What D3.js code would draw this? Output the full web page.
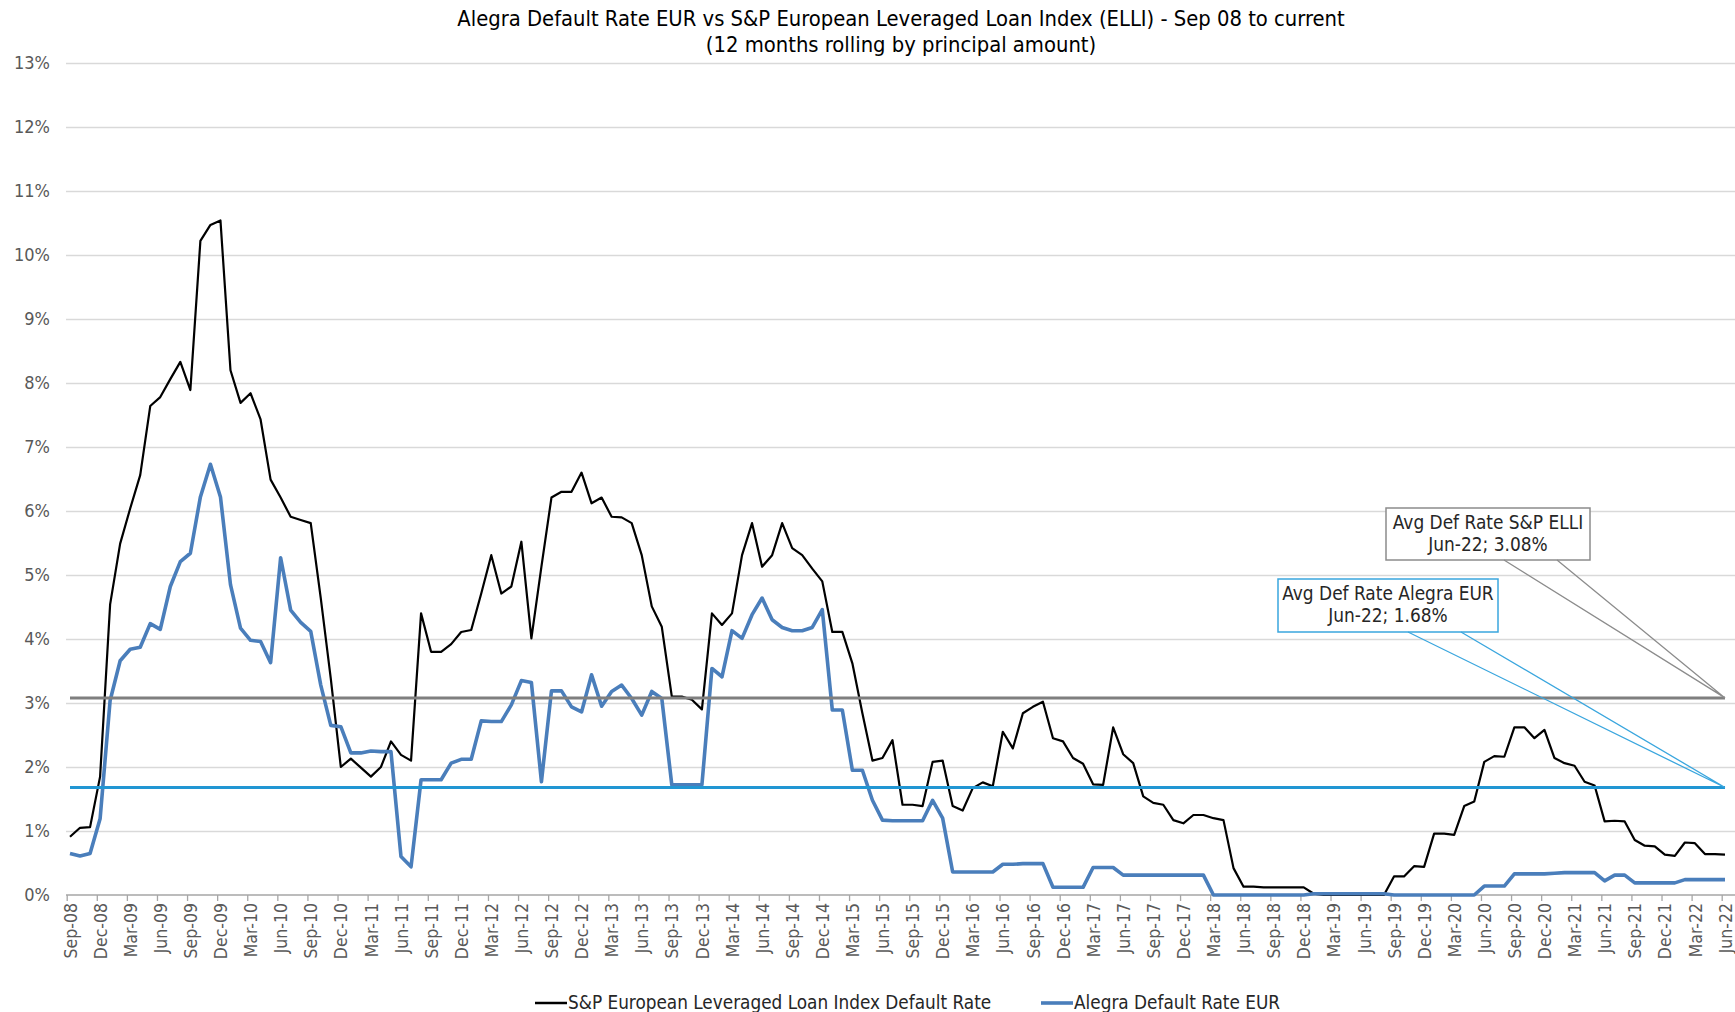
<!DOCTYPE html>
<html>
<head>
<meta charset="utf-8">
<script src="https://cdn.jsdelivr.net/npm/d3@7"></script>
<style>
  body { margin: 0; background: #fff; }
  svg { display: block; }
  text { font-family: 'DejaVu Sans Condensed', 'Liberation Sans', sans-serif; }
</style>
</head>
<body>
<svg></svg>
<script>
// categories: monthly, Sep-08 .. Jun-22
const months = d3.utcMonth
  .range(new Date(Date.UTC(2008, 8, 1)), new Date(Date.UTC(2022, 6, 1)))
  .map(d3.utcFormat('%b-%y'));

// S&P ELLI 12m rolling default rate (%)
const spElli = [
  0.91, 1.05, 1.06, 1.85, 4.54, 5.49, 6.04, 6.56, 7.64, 7.78, 8.06, 8.33,
  7.89, 10.22, 10.47, 10.54, 8.20, 7.69, 7.84, 7.43, 6.49, 6.21, 5.91, 5.86,
  5.81, 4.64, 3.38, 2.00, 2.13, 1.99, 1.85, 2.00, 2.40, 2.19, 2.10, 4.40,
  3.80, 3.80, 3.92, 4.11, 4.14, 4.71, 5.31, 4.71, 4.82, 5.52, 4.01, 5.13,
  6.21, 6.30, 6.30, 6.60, 6.12, 6.21, 5.91, 5.90, 5.81, 5.31, 4.51, 4.19,
  3.10, 3.10, 3.05, 2.90, 4.40, 4.22, 4.40, 5.31, 5.81, 5.13, 5.31, 5.81,
  5.42, 5.31, 5.10, 4.90, 4.11, 4.11, 3.62, 2.84, 2.10, 2.14, 2.42, 1.41,
  1.41, 1.39, 2.08, 2.10, 1.39, 1.32, 1.67, 1.76, 1.70, 2.55, 2.29, 2.84,
  2.94, 3.02, 2.45, 2.40, 2.14, 2.05, 1.73, 1.72, 2.62, 2.20, 2.06, 1.54,
  1.44, 1.41, 1.17, 1.12, 1.25, 1.25, 1.20, 1.17, 0.42, 0.13, 0.13, 0.12,
  0.12, 0.12, 0.12, 0.12, 0.02, 0.00, 0.00, 0.00, 0.00, 0.00, 0.00, 0.00,
  0.29, 0.29, 0.45, 0.44, 0.96, 0.96, 0.94, 1.39, 1.46, 2.08, 2.17, 2.16,
  2.62, 2.62, 2.45, 2.58, 2.14, 2.06, 2.02, 1.77, 1.71, 1.15, 1.16, 1.15,
  0.86, 0.77, 0.76, 0.63, 0.61, 0.82, 0.81, 0.64, 0.64, 0.63
];

// Alegra EUR 12m rolling default rate (%)
const alegraEur = [
  0.65, 0.61, 0.65, 1.19, 3.04, 3.66, 3.84, 3.87, 4.24, 4.15, 4.82, 5.21,
  5.34, 6.22, 6.73, 6.22, 4.85, 4.17, 3.98, 3.96, 3.63, 5.27, 4.45, 4.26,
  4.12, 3.28, 2.65, 2.63, 2.22, 2.22, 2.25, 2.24, 2.24, 0.60, 0.44, 1.80,
  1.80, 1.80, 2.06, 2.12, 2.12, 2.72, 2.71, 2.71, 2.97, 3.35, 3.32, 1.77,
  3.19, 3.19, 2.94, 2.86, 3.44, 2.95, 3.18, 3.28, 3.07, 2.81, 3.18, 3.07,
  1.72, 1.72, 1.72, 1.72, 3.54, 3.41, 4.13, 4.01, 4.38, 4.64, 4.30, 4.18,
  4.13, 4.13, 4.18, 4.46, 2.89, 2.89, 1.95, 1.95, 1.48, 1.17, 1.16, 1.16,
  1.16, 1.16, 1.48, 1.20, 0.36, 0.36, 0.36, 0.36, 0.36, 0.48, 0.48, 0.49,
  0.49, 0.49, 0.12, 0.12, 0.12, 0.12, 0.43, 0.43, 0.43, 0.31, 0.31, 0.31,
  0.31, 0.31, 0.31, 0.31, 0.31, 0.31, 0.00, 0.00, 0.00, 0.00, 0.00, 0.00,
  0.00, 0.00, 0.00, 0.00, 0.02, 0.02, 0.02, 0.02, 0.02, 0.02, 0.02, 0.02,
  0.00, 0.00, 0.00, 0.00, 0.00, 0.00, 0.00, 0.00, 0.00, 0.14, 0.14, 0.14,
  0.33, 0.33, 0.33, 0.33, 0.34, 0.35, 0.35, 0.35, 0.35, 0.22, 0.31, 0.31,
  0.19, 0.19, 0.19, 0.19, 0.19, 0.24, 0.24, 0.24, 0.24, 0.24
];

const avgSpElli = 3.08;
const avgAlegra = 1.68;

const yTickValues = d3.range(0, 14);
const xTickLabels = months.filter((m, i) => i % 3 === 0);

const titleLines = [
  'Alegra Default Rate EUR vs S&P European Leveraged Loan Index (ELLI) - Sep 08 to current',
  '(12 months rolling by principal amount)'
];
const legendNames = ['S&P European Leveraged Loan Index Default Rate', 'Alegra Default Rate EUR'];
const calloutElli = ['Avg Def Rate S&P ELLI', 'Jun-22; 3.08%'];
const calloutAlegra = ['Avg Def Rate Alegra EUR', 'Jun-22; 1.68%'];

window.onload = () => {
  const width = 1735;
  const height = 1012;
  const plotLeft = 66;
  const plotRight = 1735;
  const plotTop = 63;
  const plotBottom = 895;

  const svg = d3.select('svg').attr('width', width).attr('height', height);

  const xScale = d3.scalePoint().domain(months).range([70, 1725]);
  const yScale = d3.scaleLinear().domain([0, 13]).range([plotBottom, plotTop]);

  // title
  svg.append('g').selectAll('text')
    .data(titleLines)
    .enter()
    .append('text')
    .attr('x', 901)
    .attr('y', (d, i) => 26 + i * 26)
    .attr('text-anchor', 'middle')
    .attr('font-size', 21.8)
    .attr('fill', '#000')
    .text(d => d);

  // gridlines + y labels
  const yAxis = svg.append('g')
    .attr('transform', 'translate(' + plotLeft + ',0)')
    .call(d3.axisLeft(yScale)
      .tickValues(yTickValues)
      .tickSize(-(plotRight - plotLeft))
      .tickPadding(16)
      .tickFormat(d => d + '%'));
  yAxis.select('.domain').remove();
  yAxis.selectAll('.tick line')
    .attr('stroke', d => d === 0 ? 'none' : '#d9d9d9')
    .attr('stroke-width', 1.5);
  yAxis.selectAll('.tick text')
    .attr('fill', '#595959')
    .attr('font-size', 18)
    .attr('font-family', null);

  // x axis
  const xAxis = svg.append('g')
    .attr('transform', 'translate(-3.3,' + plotBottom + ')')
    .call(d3.axisBottom(xScale)
      .tickValues(xTickLabels)
      .tickSize(6)
      .tickSizeOuter(0));
  xAxis.select('.domain').remove();
  xAxis.selectAll('.tick line').attr('stroke', '#a6a6a6').attr('stroke-width', 1.3);
  xAxis.selectAll('.tick text')
    .attr('font-size', 17.5)
    .attr('font-family', null)
    .attr('fill', '#595959')
    .attr('text-anchor', 'end')
    .attr('transform', 'translate(3.3,0) rotate(-90)')
    .attr('x', -8)
    .attr('y', 0)
    .attr('dy', '0.35em');

  svg.append('line')
    .attr('x1', plotLeft).attr('x2', plotRight)
    .attr('y1', plotBottom).attr('y2', plotBottom)
    .attr('stroke', '#a6a6a6')
    .attr('stroke-width', 1.5);

  // series lines
  const line = d3.line()
    .x((d, i) => xScale(months[i]))
    .y(d => yScale(d));

  svg.append('path')
    .datum(spElli)
    .attr('fill', 'none')
    .attr('stroke', '#000')
    .attr('stroke-width', 2.2)
    .attr('stroke-linejoin', 'round')
    .attr('d', line);

  svg.append('path')
    .datum(alegraEur)
    .attr('fill', 'none')
    .attr('stroke', '#4a7ebb')
    .attr('stroke-width', 3.6)
    .attr('stroke-linejoin', 'round')
    .attr('d', line);

  // average lines
  const avgLines = [
    {value: avgSpElli, color: '#7f7f7f'},
    {value: avgAlegra, color: '#2196d3'}
  ];
  avgLines.forEach(a => {
    svg.append('path')
      .datum(months.map(() => a.value))
      .attr('fill', 'none')
      .attr('stroke', a.color)
      .attr('stroke-width', 3)
      .attr('d', line);
  });

  // callouts
  const lastMonth = months[months.length - 1];
  const callouts = [
    {lines: calloutElli, value: avgSpElli, color: '#8c8c8c', box: [1386, 508, 1590, 560], base: [1504, 1557]},
    {lines: calloutAlegra, value: avgAlegra, color: '#3aa6de', box: [1278, 579, 1498, 632], base: [1408, 1461]}
  ];
  callouts.forEach(c => {
    const ax = xScale(lastMonth);
    const ay = yScale(c.value);
    const g = svg.append('g');
    g.append('rect')
      .attr('x', c.box[0]).attr('y', c.box[1])
      .attr('width', c.box[2] - c.box[0]).attr('height', c.box[3] - c.box[1])
      .attr('fill', '#fff')
      .attr('stroke', c.color)
      .attr('stroke-width', 1.5);
    g.append('path')
      .attr('d', 'M' + c.base[0] + ',' + c.box[3] + 'L' + ax + ',' + ay + 'L' + c.base[1] + ',' + c.box[3])
      .attr('fill', 'none')
      .attr('stroke', c.color)
      .attr('stroke-width', 1.3);
    g.selectAll('text')
      .data(c.lines)
      .enter()
      .append('text')
      .attr('x', (c.box[0] + c.box[2]) / 2)
      .attr('y', (d, i) => c.box[1] + 21 + i * 22)
      .attr('text-anchor', 'middle')
      .attr('font-size', 18.9)
      .attr('fill', '#262626')
      .text(d => d);
  });

  // legend
  const legendItems = [
    {name: legendNames[0], color: '#000', w: 2.5, x: 535},
    {name: legendNames[1], color: '#4a7ebb', w: 3.6, x: 1041}
  ];
  const legend = svg.append('g');
  legendItems.forEach(l => {
    legend.append('line')
      .attr('x1', l.x).attr('x2', l.x + 32)
      .attr('y1', 1003).attr('y2', 1003)
      .attr('stroke', l.color)
      .attr('stroke-width', l.w);
    legend.append('text')
      .attr('x', l.x + 33)
      .attr('y', 1009)
      .attr('font-size', 18.8)
      .attr('fill', '#262626')
      .text(l.name);
  });
};
</script>
</body>
</html>
